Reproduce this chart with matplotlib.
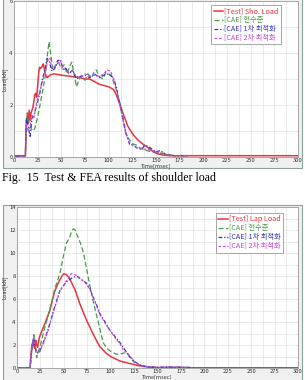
import matplotlib
matplotlib.use("Agg")
import matplotlib.pyplot as plt
from matplotlib.patches import Rectangle

plt.rcParams['font.family'] = ['Noto Sans CJK KR', 'DejaVu Sans']

# shoulder load (top)
sh_test_t = [0, 12, 13, 14, 15, 16, 17, 18, 20, 22, 23, 24, 26, 27, 28, 30, 31, 33, 35, 38, 42, 50, 60, 70, 75, 80,
             85, 90, 95, 100, 105, 108, 111, 115, 120, 126, 131, 136, 142, 147, 152, 158, 165, 175, 200, 250, 300]
sh_test_v = [0.05, 0.05, 1.2, 1.6, 1.3, 1.8, 1.4, 1.7, 1.9, 2.4, 2.45, 2.3, 3.2, 3.45, 3.4, 3.5, 3.58, 3.2, 3.05, 3.15,
             3.2, 3.15, 3.1, 3.05, 3.0, 3.0, 2.9, 2.8, 2.75, 2.7, 2.6, 2.4, 2.1, 1.7, 1.2, 0.85, 0.65, 0.5, 0.35, 0.2,
             0.12, 0.07, 0.05, 0.05, 0.05, 0.05, 0.05]
sh_cur_t = [0, 12, 13, 14, 16, 18, 20, 22, 25, 27, 29, 31, 33, 35, 37, 39, 41, 44, 47, 50, 53, 56, 59, 61, 64, 66, 69,
            71, 75, 78, 82, 85, 87, 90, 94, 97, 100, 103, 106, 108, 111, 114, 116, 118, 122, 126, 130, 133, 136, 140,
            145, 150, 155, 158, 163, 168, 175, 185]
sh_cur_v = [0, 0.05, 1.4, 1.7, 1.3, 1.1, 1.0, 1.1, 1.55, 1.9, 2.3, 2.7, 3.1, 3.85, 4.43, 3.9, 3.35, 3.5, 3.65, 3.4,
            3.55, 3.2, 3.5, 3.65, 3.1, 2.7, 3.0, 3.1, 2.95, 3.2, 3.05, 3.3, 3.35, 3.1, 3.0, 3.25, 3.2, 3.1, 2.8, 2.6,
            2.2, 1.8, 1.3, 0.9, 0.65, 0.5, 0.45, 0.35, 0.3, 0.25, 0.2, 0.2, 0.15, 0.15, 0.1, 0.05, 0.05, 0.05]
sh_opt1_t = [0, 12, 13, 15, 17, 19, 21, 24, 27, 30, 33, 35, 37, 40, 43, 46, 49, 52, 55, 58, 62, 66, 70, 75, 80, 85,
             90, 95, 100, 105, 108, 112, 116, 119, 122, 126, 130, 135, 138, 142, 146, 150, 155, 160, 170, 185]
sh_opt1_v = [0, 0.05, 1.5, 1.2, 0.75, 1.5, 1.6, 2.0, 2.4, 3.0, 3.4, 3.8, 3.7, 3.3, 3.4, 3.7, 3.75, 3.35, 3.4, 3.2,
             3.35, 3.0, 3.1, 3.15, 3.05, 3.2, 3.05, 3.15, 3.2, 3.05, 2.7, 2.0, 1.3, 0.85, 0.5, 0.45, 0.35, 0.3, 0.45,
             0.4, 0.3, 0.2, 0.25, 0.1, 0.05, 0.05]
sh_opt2_t = [0, 12, 13, 15, 17, 19, 21, 24, 27, 30, 33, 36, 38, 40, 43, 46, 49, 52, 55, 58, 62, 66, 70, 75, 80, 85,
             90, 95, 98, 102, 106, 110, 114, 118, 121, 125, 130, 135, 140, 145, 150, 155, 160, 170, 185]
sh_opt2_v = [0, 0.05, 1.3, 1.0, 1.2, 1.6, 1.5, 2.1, 2.5, 2.9, 3.3, 3.75, 3.8, 3.4, 3.5, 3.6, 3.7, 3.4, 3.35, 3.25,
             3.3, 3.1, 3.05, 3.2, 3.1, 3.15, 3.1, 3.2, 3.35, 3.3, 2.9, 2.3, 1.6, 0.95, 0.6, 0.45, 0.35, 0.3, 0.3, 0.25,
             0.2, 0.15, 0.1, 0.05, 0.05]

# lap load (bottom)
lp_test_t = [0, 14, 15, 16, 17, 18, 19, 20, 21, 22, 24, 27, 30, 35, 40, 44, 48, 50, 53, 56, 59, 62, 67, 74, 81, 88,
             95, 100, 110, 120, 130, 140, 150, 175, 200, 250, 300]
lp_test_v = [0, 0, 1.2, 2.0, 2.3, 1.9, 1.7, 2.4, 2.0, 1.8, 2.7, 3.3, 3.9, 5.0, 6.6, 7.4, 8.0, 8.2, 8.1, 7.8, 7.3, 6.8,
             5.6, 4.2, 3.0, 1.9, 1.3, 1.0, 0.6, 0.4, 0.2, 0.08, 0.03, 0.02, 0.02, 0.02, 0.02]
lp_cur_t = [0, 14, 15, 17, 18, 19, 20, 21, 22, 25, 28, 31, 35, 40, 46, 50, 53, 56, 58, 60, 62, 65, 68, 71, 76, 81, 87,
            92, 96, 100, 106, 110, 114, 117, 120, 125, 131, 140, 150, 165, 185]
lp_cur_v = [0, 0, 1.0, 2.2, 2.9, 2.3, 1.5, 0.9, 1.2, 2.0, 3.0, 3.9, 5.0, 6.8, 8.3, 9.9, 10.9, 11.3, 11.8, 12.1, 12.0,
            11.4, 10.8, 10.0, 7.9, 5.9, 3.9, 2.2, 1.7, 1.45, 1.2, 1.2, 1.3, 1.35, 1.0, 0.5, 0.25, 0.1, 0.05, 0.05, 0.05]
lp_opt1_t = [0, 14, 15, 17, 18, 19, 20, 22, 24, 28, 33, 39, 46, 53, 60, 64, 67, 70, 74, 78, 81, 85, 88, 94, 99, 105,
             110, 115, 120, 125, 131, 136, 142, 150, 160, 170, 185]
lp_opt1_v = [0, 0, 1.0, 2.3, 2.6, 2.1, 1.6, 1.3, 1.4, 2.2, 3.3, 5.0, 6.8, 7.5, 7.9, 7.95, 7.8, 7.6, 7.4, 6.9, 6.2, 5.5,
             4.8, 4.0, 3.3, 2.7, 2.2, 1.6, 1.0, 0.6, 0.26, 0.15, 0.1, 0.05, 0.1, 0.08, 0.05]
lp_opt2_t = [0, 14, 15, 17, 18, 19, 20, 22, 24, 28, 33, 39, 46, 53, 58, 62, 66, 70, 74, 78, 81, 85, 88, 94, 99, 105,
             110, 114, 117, 119, 122, 126, 131, 136, 142, 150, 160, 170, 185]
lp_opt2_v = [0, 0, 1.1, 2.4, 2.7, 2.2, 1.7, 1.3, 1.4, 2.1, 3.2, 4.9, 6.7, 7.6, 8.2, 8.1, 7.9, 7.6, 7.3, 6.8, 6.2, 5.4,
             4.7, 3.9, 3.3, 2.6, 2.1, 1.5, 1.4, 1.2, 0.9, 0.5, 0.25, 0.15, 0.1, 0.05, 0.08, 0.1, 0.05]

cae_labels = ['[CAE] 현수준', '[CAE] 1차 최적화', '[CAE] 2차 최적화']
x_ticks = list(range(0, 301, 25))

RED, GREEN, BLUE, MAG = '#e8343c', '#4a9a4a', '#3434c4', '#c646d8'

fig = plt.figure(figsize=(3.05, 3.8), dpi=100)
W, H = 305, 380

# grey panel frames of the screen captures (behind the axes)
fig.patches.append(Rectangle((3 / W, 1 - 168 / H), 299 / W, 170 / H, transform=fig.transFigure,
                             facecolor='#f0f0f0', edgecolor='#8aa198', lw=0.8, zorder=-5))
fig.patches.append(Rectangle((3 / W, -0.01), 299 / W, 1 - 205 / H + 0.01, transform=fig.transFigure,
                             facecolor='#f0f0f0', edgecolor='#8aa198', lw=0.8, zorder=-5))

ax1 = fig.add_axes([14 / W, 1 - 157 / H, 284 / W, 156 / H])
ax2 = fig.add_axes([17 / W, 1 - 368 / H, 281 / W, 161 / H])


def style(ax, ymax, ystep):
    ax.set_facecolor('white')
    ax.set_xlim(0, 300)
    ax.set_ylim(0, ymax)
    ax.set_xticks(x_ticks)
    ax.set_xticks([t + 12.5 for t in x_ticks[:-1]], minor=True)
    ax.set_yticks(range(0, ymax + 1, ystep))
    ax.set_yticks(range(0, ymax + 1), minor=True)
    ax.grid(True, which='both', color='#e2e2e2', lw=0.5)
    ax.set_axisbelow(True)
    ax.tick_params(which='both', length=0, labelsize=4.2, pad=1, colors='#333333')
    for s in ax.spines.values():
        s.set_color('#9a9a9a')
        s.set_linewidth(0.6)
    ax.set_xlabel('Time[msec]', fontsize=4, labelpad=0, color='#333333')
    ax.set_ylabel('Load[kN]', fontsize=4, labelpad=1, color='#333333')


style(ax1, 6, 2)
ax1.plot(sh_test_t, sh_test_v, color=RED, lw=1.1, label='[Test] Sho. Load')
ax1.plot(sh_cur_t, sh_cur_v, color=GREEN, lw=0.9, ls=(0, (4, 2)), label=cae_labels[0])
ax1.plot(sh_opt1_t, sh_opt1_v, color=BLUE, lw=0.9, ls=(0, (3, 1.5, 1, 1.5)), label=cae_labels[1])
ax1.plot(sh_opt2_t, sh_opt2_v, color=MAG, lw=0.8, ls=(0, (2.5, 1.5)), label=cae_labels[2])

style(ax2, 14, 2)
ax2.plot(lp_test_t, lp_test_v, color=RED, lw=1.1, label='[Test] Lap Load')
ax2.plot(lp_cur_t, lp_cur_v, color=GREEN, lw=0.9, ls=(0, (4, 2)), label=cae_labels[0])
ax2.plot(lp_opt1_t, lp_opt1_v, color=BLUE, lw=0.9, ls=(0, (3, 1.5, 1, 1.5)), label=cae_labels[1])
ax2.plot(lp_opt2_t, lp_opt2_v, color=MAG, lw=0.8, ls=(0, (2.5, 1.5)), label=cae_labels[2])

for ax, anchor in [(ax1, (0.94, 0.975)), (ax2, (0.947, 0.963))]:
    leg = ax.legend(loc='upper right', bbox_to_anchor=anchor, fontsize=5.2, labelcolor='linecolor',
                    handlelength=1.3, handletextpad=0.2, borderpad=0.3, labelspacing=0.15,
                    fancybox=False, framealpha=1, borderaxespad=0)
    leg.get_frame().set_edgecolor('#999999')
    leg.get_frame().set_linewidth(0.6)

fig.text(2 / W, 1 - 178 / H, 'Fig.  15  Test & FEA results of shoulder load', family='Liberation Serif',
         fontsize=8.6, va='center', ha='left')

fig.savefig('out.png', dpi=100)
